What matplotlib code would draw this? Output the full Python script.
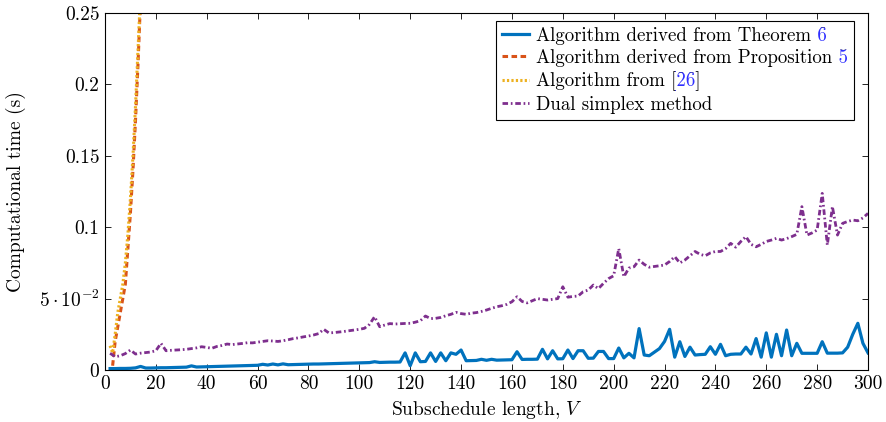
import numpy as np
import matplotlib
matplotlib.use("Agg")
import matplotlib.pyplot as plt
from matplotlib.text import Text
from matplotlib.transforms import Bbox, IdentityTransform
from matplotlib.patches import Rectangle

plt.rcParams['font.family'] = 'serif'
plt.rcParams['font.serif'] = ['cmr10']
plt.rcParams['mathtext.fontset'] = 'cm'
plt.rcParams['axes.unicode_minus'] = False
plt.rcParams['lines.scale_dashes'] = False
plt.rcParams['axes.formatter.use_mathtext'] = True

# ---------------- data ----------------
V_main = np.arange(2, 301, 2)
t_theorem = [
    0.0010, 0.0010, 0.0011, 0.0011, 0.0012,
    0.0015, 0.0025, 0.0014, 0.0014, 0.0015,
    0.0016, 0.0016, 0.0017, 0.0018, 0.0019,
    0.0020, 0.0029, 0.0021, 0.0022, 0.0023,
    0.0024, 0.0025, 0.0026, 0.0027, 0.0028,
    0.0029, 0.0030, 0.0031, 0.0032, 0.0033,
    0.0040, 0.0035, 0.0042, 0.0036, 0.0043,
    0.0037, 0.0038, 0.0039, 0.0040, 0.0041,
    0.0042, 0.0042, 0.0043, 0.0044, 0.0045,
    0.0046, 0.0047, 0.0048, 0.0049, 0.0050,
    0.0051, 0.0052, 0.0058, 0.0053, 0.0054,
    0.0055, 0.0055, 0.0056, 0.0120, 0.0030,
    0.0120, 0.0058, 0.0060, 0.0120, 0.0060,
    0.0120, 0.0065, 0.0120, 0.0110, 0.0140,
    0.0065, 0.0066, 0.0067, 0.0075, 0.0068,
    0.0075, 0.0069, 0.0070, 0.0071, 0.0072,
    0.0128, 0.0074, 0.0075, 0.0075, 0.0076,
    0.0145, 0.0078, 0.0135, 0.0078, 0.0079,
    0.0140, 0.0080, 0.0135, 0.0135, 0.0082,
    0.0083, 0.0130, 0.0130, 0.0080, 0.0080,
    0.0154, 0.0085, 0.0117, 0.0085, 0.0290,
    0.0105, 0.0100, 0.0125, 0.0150, 0.0200,
    0.0285, 0.0090, 0.0198, 0.0095, 0.0160,
    0.0105, 0.0108, 0.0110, 0.0163, 0.0110,
    0.0180, 0.0100, 0.0110, 0.0112, 0.0112,
    0.0160, 0.0112, 0.0220, 0.0090, 0.0260,
    0.0090, 0.0250, 0.0100, 0.0280, 0.0100,
    0.0187, 0.0117, 0.0117, 0.0117, 0.0117,
    0.0198, 0.0118, 0.0118, 0.0118, 0.0120,
    0.0160, 0.0250, 0.0327, 0.0187, 0.0120,
]
t_simplex = [
    0.0117, 0.0093, 0.0100, 0.0115, 0.0140,
    0.0112, 0.0118, 0.0122, 0.0126, 0.0135,
    0.0187, 0.0135, 0.0138, 0.0140, 0.0142,
    0.0145, 0.0150, 0.0155, 0.0163, 0.0158,
    0.0152, 0.0165, 0.0172, 0.0182, 0.0178,
    0.0182, 0.0186, 0.0191, 0.0190, 0.0195,
    0.0200, 0.0205, 0.0203, 0.0200, 0.0205,
    0.0212, 0.0220, 0.0225, 0.0232, 0.0238,
    0.0245, 0.0255, 0.0285, 0.0260, 0.0262,
    0.0266, 0.0270, 0.0275, 0.0280, 0.0285,
    0.0292, 0.0320, 0.0373, 0.0303, 0.0315,
    0.0325, 0.0322, 0.0324, 0.0326, 0.0327,
    0.0335, 0.0345, 0.0378, 0.0360, 0.0362,
    0.0368, 0.0380, 0.0390, 0.0404, 0.0395,
    0.0390, 0.0398, 0.0402, 0.0410, 0.0420,
    0.0432, 0.0443, 0.0450, 0.0460, 0.0478,
    0.0513, 0.0480, 0.0470, 0.0485, 0.0500,
    0.0495, 0.0490, 0.0495, 0.0500, 0.0583,
    0.0510, 0.0515, 0.0518, 0.0548, 0.0560,
    0.0595, 0.0570, 0.0607, 0.0640, 0.0660,
    0.0850, 0.0653, 0.0714, 0.0723, 0.0770,
    0.0740, 0.0720, 0.0725, 0.0730, 0.0735,
    0.0760, 0.0794, 0.0750, 0.0770, 0.0800,
    0.0830, 0.0810, 0.0800, 0.0820, 0.0830,
    0.0830, 0.0850, 0.0887, 0.0860, 0.0900,
    0.0934, 0.0880, 0.0863, 0.0880, 0.0900,
    0.0910, 0.0922, 0.0910, 0.0920, 0.0934,
    0.0950, 0.1144, 0.0945, 0.0960, 0.0980,
    0.1237, 0.0875, 0.1144, 0.0945, 0.1027,
    0.1040, 0.1050, 0.1045, 0.1065, 0.1097,
]
V_prop = [3, 4, 5, 6, 7, 8, 9, 10, 11, 12, 13, 14, 15]
t_prop = [0.003, 0.020, 0.030, 0.040, 0.050, 0.060, 0.085, 0.110, 0.140, 0.175, 0.215, 0.260, 0.300]
V_ref = [2, 3, 4, 5, 6, 7, 8, 9, 10, 11, 12, 13, 14, 15]
t_ref = [0.017, 0.012, 0.025, 0.040, 0.050, 0.060, 0.075, 0.095, 0.120, 0.150, 0.185, 0.225, 0.265, 0.310]

labels = ["Algorithm derived from Theorem 6",
          "Algorithm derived from Proposition 5",
          "Algorithm from [26]",
          "Dual simplex method"]
x_ticks = list(range(0, 301, 20))
y_ticks = [0, 0.05, 0.1, 0.15, 0.2, 0.25]
y_ticklabels = ["0", r"$5\cdot10^{-2}$", "0.1", "0.15", "0.2", "0.25"]

c_blue = '#0072BD'
c_orange = '#D95319'
c_yellow = '#EDB120'
c_purple = '#7E2F8E'
link_blue = '#3030FF'

# ---------------- figure ----------------
FS = 14
LFS = 13.6
fig = plt.figure(figsize=(8.86, 4.22), dpi=100)
ax = fig.add_axes([0.1185, 0.1232, 0.8612, 0.8460])

ax.plot(V_main, t_theorem, color=c_blue, lw=2.3, label=labels[0])
ax.plot(V_prop, t_prop, color=c_orange, lw=2.2, linestyle=(0, (4, 2.5)), label=labels[1])
ax.plot(V_ref, t_ref, color=c_yellow, lw=2.2, linestyle=(0, (1.6, 1.6)), label=labels[2])
ax.plot(V_main, t_simplex, color=c_purple, lw=2.0, linestyle=(0, (4, 2, 1.2, 2)), label=labels[3])

ax.set_xlim(0, 300)
ax.set_ylim(0, 0.25)
ax.set_xticks(x_ticks)
ax.set_xticklabels([str(v) for v in x_ticks], fontsize=FS)
ax.set_yticks(y_ticks)
ax.set_yticklabels(y_ticklabels, fontsize=FS)
ax.tick_params(direction='in', length=4.5, width=0.6, top=True, right=True, pad=4)
for s in ax.spines.values():
    s.set_linewidth(0.8)

ax.set_xlabel("Subschedule length, $V$", fontsize=FS, labelpad=4)
ax.set_ylabel("Computational time (s)", fontsize=FS, labelpad=9)

leg = ax.legend(loc='upper right', bbox_to_anchor=(0.981, 0.978), fontsize=LFS,
                frameon=True, fancybox=False, framealpha=1, edgecolor='black',
                handlelength=1.45, handletextpad=0.35, labelspacing=0.24,
                borderpad=0.3, borderaxespad=0.0)
leg.get_frame().set_linewidth(0.8)

# colour the reference numbers blue (as hyperlinks in the original)
fig.canvas.draw()
r = fig.canvas.get_renderer()
parts = [("6", ""), ("5", ""), ("26", "]"), ("", "")]


def width_of(s, fp):
    if not s:
        return 0.0
    tt = Text(0, 0, s, fontproperties=fp)
    tt.set_figure(fig)
    return tt.get_window_extent(r).width


for t, (blue, tail) in zip(leg.get_texts(), parts):
    if not blue:
        continue
    bb = t.get_window_extent(r)
    fp = t.get_fontproperties()
    w_tail = width_of(tail, fp)
    w_all = width_of(blue + tail, fp)
    x1 = bb.x1 - w_tail + (0.6 if tail else 1.5)
    x0 = bb.x1 - w_all - 0.8
    rect = Rectangle((x0, bb.y0 + 1), x1 - x0, bb.height - 2, transform=IdentityTransform(),
                     facecolor='white', edgecolor='none', zorder=9)
    fig.add_artist(rect)
    ov = Text(*t.get_position(), text=t.get_text(), color=link_blue,
              fontproperties=fp, va=t.get_va(), ha=t.get_ha(),
              transform=t.get_transform())
    fig.add_artist(ov)
    ov.set_zorder(10)
    ov.set_clip_box(Bbox([[x0, bb.y0 - 6], [x1, bb.y1 + 6]]))
    ov.set_clip_on(True)

fig.savefig("out.png", dpi=100)
